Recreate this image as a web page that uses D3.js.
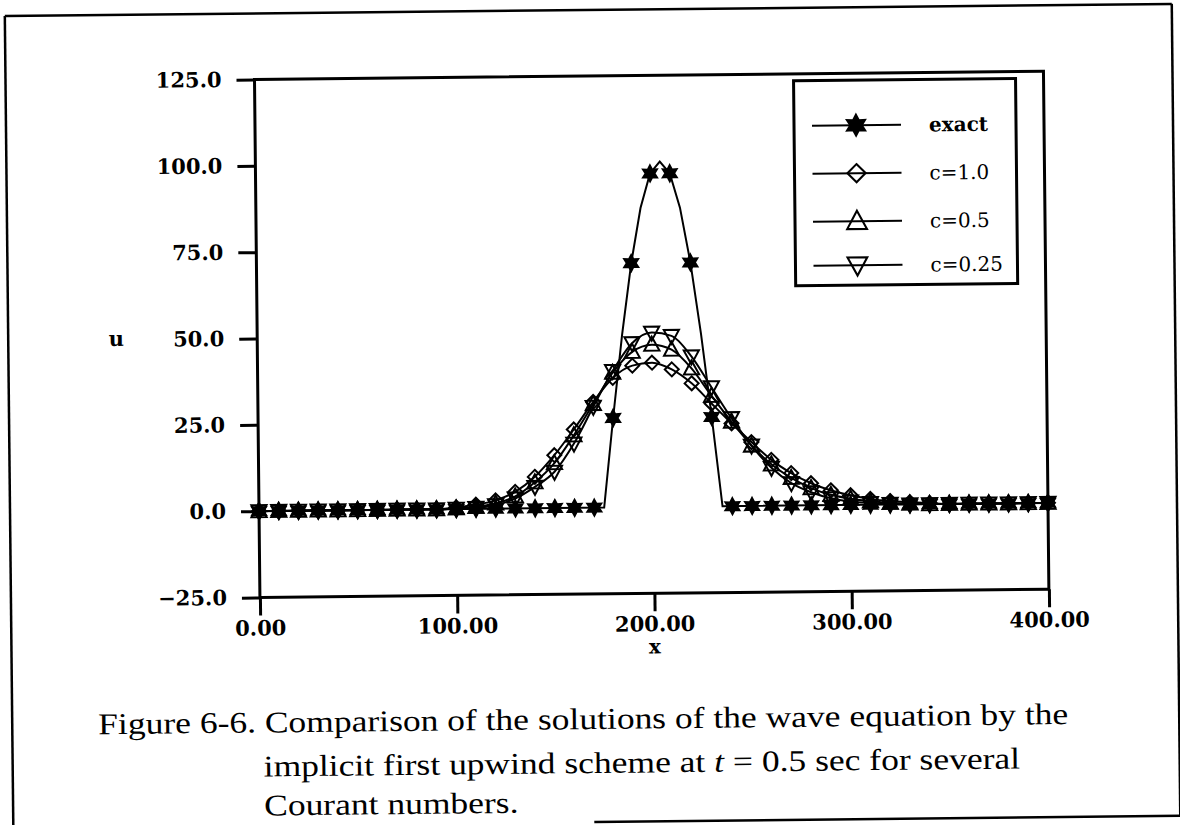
<!DOCTYPE html>
<html><head><meta charset="utf-8">
<script src="https://cdn.jsdelivr.net/npm/d3@7"></script>
<style>
html,body{margin:0;padding:0;background:#fff;}
svg{display:block;}
</style>
</head><body>
<svg id="chart" width="1180" height="825"></svg>
<script>
// ---- data ----
const xValues = [0,10,20,30,40,50,60,70,80,90,100,110,120,130,140,150,160,170,180,190,200,210,220,230,240,250,260,270,280,290,300,310,320,330,340,350,360,370,380,390,400];
const exactU  = [0,0,0,0,0,0,0,0,0,0,0,0,0,0,0,0,0,0,25.9,70.7,96.6,96.6,70.7,25.9,0,0,0,0,0,0,0,0,0,0,0,0,0,0,0,0,0];
const exactLineX = [0,175,180,185,190,195,200,205,210,215,220,225,230,235,400];
const exactLineU = [0,0,25.9,50,70.7,86.6,96.6,100,96.6,86.6,70.7,50,25.9,0,0];
const c10U  = [0,0,0,0,0,0,0,0,0,0,0.5,1.2,2.4,4.8,9.1,15.3,22.7,30.6,37.5,41.0,41.8,39.8,35.7,29.8,24.0,18.5,13.3,9.4,6.4,4.3,2.8,1.7,1.0,0.6,0.3,0,0,0,0,0,0];
const c05U  = [0,0,0,0,0,0,0,0,0,0,0.2,0.6,1.5,3.5,7.5,13.0,21.0,30.0,39.0,45.0,47.0,45.5,40.0,32.0,24.5,17.5,12.0,8.0,5.0,3.0,1.8,1.0,0.5,0.2,0,0,0,0,0,0,0];
const c025U = [0,0,0,0,0,0,0,0,0,0,0.1,0.3,1.0,2.9,6.2,10.5,18.6,29.2,39.5,47.5,50.5,49.5,43.5,34.5,25.5,17.5,11.0,6.5,3.8,2.0,1.0,0.5,0.2,0,0,0,0,0,0,0,0];
const seriesNames = ["exact","c=1.0","c=0.5","c=0.25"];
const yTicks = [-25,0,25,50,75,100,125];
const xTicks = [0,100,200,300,400];
const captionLines = [
  "Figure 6-6. Comparison of the solutions of the wave equation by the",
  "implicit first upwind scheme at |t| = 0.5 sec for several",
  "Courant numbers."
];

// ---- drawing ----
const svg = d3.select("#chart");
const root = svg.append("g").attr("transform","rotate(-0.6,590,412)");

const L=258, R=1047, T=76, B=594;
const x = d3.scaleLinear().domain([0,400]).range([L,R]);
const y = d3.scaleLinear().domain([-25,125]).range([B,T]);
const tickFont = "'DejaVu Serif', serif";

// page frame
const frame = root.append("g").attr("stroke","#000").attr("fill","none").attr("stroke-width",2.5);
frame.append("line").attr("x1",9).attr("y1",10).attr("x2",1176).attr("y2",10);
frame.append("line").attr("x1",9).attr("y1",10).attr("x2",9).attr("y2",830);
frame.append("line").attr("x1",1176).attr("y1",10).attr("x2",1176).attr("y2",822);
frame.append("line").attr("x1",590).attr("y1",822).attr("x2",1180).attr("y2",822);

// plot box
root.append("rect").attr("x",L).attr("y",T).attr("width",R-L).attr("height",B-T)
  .attr("fill","none").attr("stroke","#000").attr("stroke-width",3);

// axes
const yAxis = root.append("g").attr("transform",`translate(${L},0)`)
  .call(d3.axisLeft(y).tickValues(yTicks).tickSize(18).tickPadding(15).tickFormat(d3.format(".1f")));
const xAxis = root.append("g").attr("transform",`translate(0,${B})`)
  .call(d3.axisBottom(x).tickValues(xTicks).tickSize(18).tickPadding(5).tickFormat(d3.format(".2f")));
[yAxis,xAxis].forEach(a=>{
  a.select(".domain").remove();
  a.selectAll("line").attr("stroke","#000").attr("stroke-width",3);
  a.selectAll("text").attr("font-family",tickFont).attr("font-weight","bold")
    .attr("font-size",21).attr("fill","#000");
});

// axis titles
root.append("text").attr("x",117).attr("y",y(50)+6).attr("text-anchor","middle")
  .attr("font-family",tickFont).attr("font-weight","bold").attr("font-size",21).text("u");
root.append("text").attr("x",x(200)).attr("y",654).attr("text-anchor","middle")
  .attr("font-family",tickFont).attr("font-weight","bold").attr("font-size",20).text("x");

// symbols
function hexagramPath(r){
  let p="";
  for(let i=0;i<12;i++){
    const a = Math.PI/6*i - Math.PI/2;
    const rr = i%2===0 ? r : r*0.55;
    p += (i===0?"M":"L") + (rr*Math.cos(a)).toFixed(2)+","+(rr*Math.sin(a)).toFixed(2);
  }
  return p+"Z";
}
function diamondPath(r){ return `M0,${-r}L${r},0L0,${r}L${-r},0Z`; }
function triUpPath(r){ return `M0,${-r}L${r*0.95},${r*0.75}L${-r*0.95},${r*0.75}Z`; }
function triDownPath(r){ return `M0,${r}L${r*0.95},${-r*0.75}L${-r*0.95},${-r*0.75}Z`; }

const seriesVals = [exactU,c10U,c05U,c025U];
const markerPaths = [hexagramPath(8), diamondPath(7), triUpPath(8), triDownPath(8)];
const markerFill = ["#000","none","none","none"];

const smooth = d3.line().x(d=>x(d[0])).y(d=>y(d[1])).curve(d3.curveMonotoneX);
const straight = d3.line().x(d=>x(d[0])).y(d=>y(d[1]));

const plot = root.append("g");
[c10U,c05U,c025U].forEach(vals=>{
  plot.append("path").datum(xValues.map((xv,i)=>[xv,vals[i]]))
    .attr("d",smooth).attr("fill","none").attr("stroke","#000").attr("stroke-width",2);
});
plot.append("path").datum(exactLineX.map((xv,i)=>[xv,exactLineU[i]]))
  .attr("d",straight).attr("fill","none").attr("stroke","#000").attr("stroke-width",2);

seriesVals.forEach((vals,s)=>{
  plot.append("g").selectAll("path").data(xValues.map((xv,i)=>[xv,vals[i]])).join("path")
    .attr("transform",d=>`translate(${x(d[0])},${y(d[1])})`)
    .attr("d",markerPaths[s]).attr("fill",markerFill[s]).attr("stroke","#000")
    .attr("stroke-width",2).attr("stroke-linejoin","miter");
});

// legend
const lg = root.append("g");
const LX=797, LY=83, LW=222, LH=205;
lg.append("rect").attr("x",LX).attr("y",LY).attr("width",LW).attr("height",LH)
  .attr("fill","#fff").attr("stroke","#000").attr("stroke-width",3);
const rowY = [128,176,224,268];
seriesNames.forEach((nm,i)=>{
  lg.append("line").attr("x1",815).attr("x2",904).attr("y1",rowY[i]).attr("y2",rowY[i])
    .attr("stroke","#000").attr("stroke-width",2);
  lg.append("path").attr("d",markerPaths[i])
    .attr("fill",markerFill[i]).attr("stroke","#000").attr("stroke-width",1.6)
    .attr("transform",`translate(859,${rowY[i]}) scale(1.3)`);
  lg.append("text").attr("x",932).attr("y",rowY[i]+7).attr("font-family",tickFont)
    .attr("font-size",20).attr("font-weight",i===0?"bold":"normal").text(nm);
});

// caption: same font size and same horizontal stretch for every line
const capFont = "'Liberation Serif', 'Times New Roman', serif";
const capX = [95,260,260], capY=[729,773,812];
const capNodes = captionLines.map((ln,i)=>{
  const t = root.append("text").attr("x",capX[i]).attr("y",capY[i])
    .attr("font-family",capFont).attr("font-size",30).attr("fill","#000");
  ln.split("|").forEach((part,j)=>{
    t.append("tspan").attr("font-style", j%2===1?"italic":"normal").text(part);
  });
  return t;
});
const natural = capNodes.map(t=>t.node().getComputedTextLength());
const k = 970 / natural[0];
capNodes.forEach((t,i)=>{
  t.attr("textLength", natural[i]*k).attr("lengthAdjust","spacingAndGlyphs");
});
</script>
</body></html>
